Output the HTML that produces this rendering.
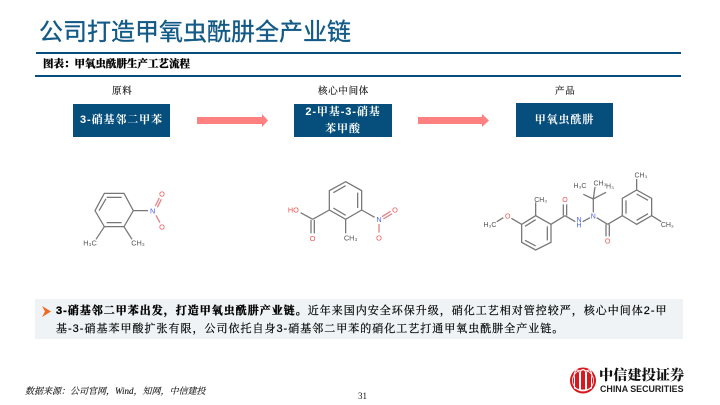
<!DOCTYPE html>
<html><head><meta charset="utf-8">
<style>
html,body{margin:0;padding:0;background:#fff}
#p{position:relative;width:720px;height:405px;overflow:hidden;background:#fff;font-family:"Liberation Serif","Noto Serif CJK SC",serif}
.a{position:absolute;white-space:nowrap}
.box{position:absolute;background:#064f7d;color:#fff;display:flex;align-items:center;justify-content:center;text-align:center;font-size:11px;letter-spacing:.9px;line-height:17px;font-family:"Liberation Sans","Noto Serif CJK SC",serif;font-weight:700}
.lb{font-size:9.5px;color:#111;letter-spacing:.7px;line-height:12px;-webkit-text-stroke:.15px #111}
.t{font-size:11px;letter-spacing:1px;line-height:14px;color:#000;font-family:"Liberation Sans","Noto Serif CJK SC",serif;-webkit-text-stroke:.2px #000}
svg{position:absolute;left:0;top:0}
svg text{font-family:"Liberation Sans",sans-serif}
</style></head><body><div id="p">
<div class="a" style="left:39px;top:16px;font-size:24px;line-height:34px;color:#135a86;-webkit-text-stroke:.35px #135a86;font-family:'Liberation Sans','Noto Sans CJK SC',sans-serif">公司打造甲氧虫酰肼全产业链</div>
<div class="a" style="left:36px;top:52px;width:645px;height:2px;background:#054d7c"></div>
<div class="a" style="left:35px;top:75px;width:646px;height:2px;background:#054d7c"></div>
<div class="a" style="left:43px;top:58px;font-size:10.5px;line-height:13px;font-weight:900;color:#000;-webkit-text-stroke:.2px #000;font-family:'Liberation Serif','Noto Serif CJK SC',serif">图表：甲氧虫酰肼生产工艺流程</div>

<div class="a lb" style="left:112px;top:86px">原料</div>
<div class="a lb" style="left:318px;top:86px">核心中间体</div>
<div class="a lb" style="left:555px;top:86px">产品</div>

<div class="box" style="left:73px;top:104px;width:97px;height:33px">3-硝基邻二甲苯</div>
<div class="box" style="left:294px;top:104px;width:98px;height:33px">2-甲基-3-硝基<br>苯甲酸</div>
<div class="box" style="left:516px;top:103px;width:97px;height:34px">甲氧虫酰肼</div>

<svg width="720" height="405" viewBox="0 0 720 405">
<polygon points="197,117 262,117 262,114 268,120.5 262,127 262,124 197,124" fill="#ff8080"/>
<polygon points="418,117 482,117 482,114 489,120.5 482,127 482,124 418,124" fill="#ff8080"/>

<!-- molecule 1 -->
<g transform="translate(70 170) scale(.3333)" stroke="#777" stroke-width="3.800" fill="none">
<polygon points="103,70 162,70 190,122 162,170 103,170 75,122"/>
<path d="M110,82L155,82M87,122L108,86M110,158L155,158"/>
<path d="M190,122L234,122M103,170L78,208M162,170L186,208"/>
<path d="M256,108L268,84M262,112L274,88" stroke="#e08080"/>
<path d="M258,136L270,158" stroke="#e08080"/>
<g stroke="none" font-size="22">
<text x="248" y="130" text-anchor="middle" fill="#4a60ee">N</text>
<text x="276" y="80" text-anchor="middle" fill="#f05050">O</text>
<text x="276" y="178" text-anchor="middle" fill="#f05050">O</text>
<text x="60" y="227" text-anchor="middle" fill="#555">H₃C</text>
<text x="204" y="227" text-anchor="middle" fill="#555">CH₃</text>
</g></g>

<!-- molecule 2 -->
<g transform="translate(280 170) scale(.3333)" stroke="#777" stroke-width="3.800" fill="none">
<polygon points="197,35 245,62 245,120 197,148 148,120 148,62"/>
<path d="M160,68L197,47M233,68L233,114M160,114L197,136"/>
<path d="M148,120L98,148M98,148L62,128M93,150L93,190M103,150L103,190"/>
<path d="M197,148L197,190M245,120L284,142"/>
<path d="M306,140L332,124M310,147L336,131M297,162L297,188" stroke="#e08080"/>
<g stroke="none" font-size="22">
<text x="40" y="128" text-anchor="middle" fill="#f05050">HO</text>
<text x="98" y="213" text-anchor="middle" fill="#f05050">O</text>
<text x="212" y="212" text-anchor="middle" fill="#555">CH₃</text>
<text x="297" y="156" text-anchor="middle" fill="#4a60ee">N</text>
<text x="345" y="128" text-anchor="middle" fill="#f05050">O</text>
<text x="297" y="211" text-anchor="middle" fill="#f05050">O</text>
</g></g>

<!-- molecule 3 -->
<g transform="translate(470 165) scale(.3333)" stroke="#777" stroke-width="3.800" fill="none">
<polygon points="243,178 243,232 197,255 155,232 155,178 197,152"/>
<path d="M232,184L232,226M197,243L165,226M165,184L197,164"/>
<path d="M197,152L197,112M155,178L124,160M100,158L80,170"/>
<path d="M243,178L285,152M280,152L280,118M290,152L290,118"/>
<path d="M285,152L316,170M338,170L360,158"/>
<path d="M370,142L370,102M370,102L340,88M370,102L375,66M370,102L408,82"/>
<path d="M380,158L413,178M408,178L408,214M418,178L418,214M413,178L457,152"/>
<polygon points="457,152 457,100 500,75 545,100 545,152 500,178"/>
<path d="M468,146L468,106M500,87L534,106M534,146L500,166"/>
<path d="M500,75L500,42M545,152L574,170"/>
<g stroke="none" font-size="21">
<text x="113" y="161" text-anchor="middle" fill="#f05050">O</text>
<text x="60" y="186" text-anchor="middle" fill="#555">H₃C</text>
<text x="212" y="111" text-anchor="middle" fill="#555">CH₃</text>
<text x="285" y="111" text-anchor="middle" fill="#f05050">O</text>
<text x="327" y="171" text-anchor="middle" fill="#4a60ee">N</text>
<text x="327" y="188" text-anchor="middle" fill="#4a60ee">H</text>
<text x="370" y="161" text-anchor="middle" fill="#4a60ee">N</text>
<text x="330" y="69" text-anchor="middle" fill="#555">H₃C</text>
<text x="390" y="61" text-anchor="middle" fill="#555">CH₃</text>
<text x="420" y="71" text-anchor="middle" fill="#555">H₃</text>
<text x="413" y="236" text-anchor="middle" fill="#f05050">O</text>
<text x="513" y="38" text-anchor="middle" fill="#555">CH₃</text>
<text x="592" y="186" text-anchor="middle" fill="#555">CH₃</text>
</g></g>
</svg>

<div class="a" style="left:35px;top:299px;width:648px;height:40px;background:#eff3f6"></div>
<svg width="720" height="405" viewBox="0 0 720 405"><polygon points="42,306 51,311.5 42,317 45,311.5" fill="#ee6a1f"/></svg>
<div class="a t" style="left:56px;top:304px"><b style="-webkit-text-stroke:.35px #000">3-硝基邻二甲苯出发，打造甲氧虫酰肼产业链。</b>近年来国内安全环保升级，硝化工艺相对管控较严，核心中间体2-甲</div>
<div class="a t" style="left:56px;top:322px">基-3-硝基苯甲酸扩张有限，公司依托自身3-硝基邻二甲苯的硝化工艺打通甲氧虫酰肼全产业链。</div>

<div class="a" style="left:25px;top:385px;font-size:9px;line-height:12px;font-style:italic;color:#111;-webkit-text-stroke:.1px #111">数据来源：公司官网，Wind，知网，中信建投</div>
<div class="a" style="left:358px;top:390px;font-size:9px;line-height:12px;color:#111">31</div>

<svg width="720" height="405" viewBox="0 0 720 405">
<circle cx="583" cy="380.5" r="13" fill="#d7191f"/>
<circle cx="583" cy="380.500" r="10.500" fill="none" stroke="#fff" stroke-width=".8"/>
<path d="M574.500,388V378a2.500,5 0 0 1 5,-5V390ZM586.500,390V373a2.500,5 0 0 1 5,5V388Z" fill="none" stroke="#fff" stroke-width="1"/>
<path d="M580.500,390V372.500a2.500,3 0 0 1 5,0V390Z" fill="none" stroke="#fff" stroke-width="1"/>
</svg>
<div class="a" style="left:599px;top:368px;font-size:14.200px;line-height:17px;font-weight:900;color:#111;font-family:'Liberation Serif','Noto Serif CJK SC',serif">中信建投证券</div>
<div class="a" style="left:600px;top:384px;font-size:8.900px;line-height:10px;font-weight:700;color:#222;font-family:'Liberation Sans',sans-serif">CHINA SECURITIES</div>
</div></body></html>
